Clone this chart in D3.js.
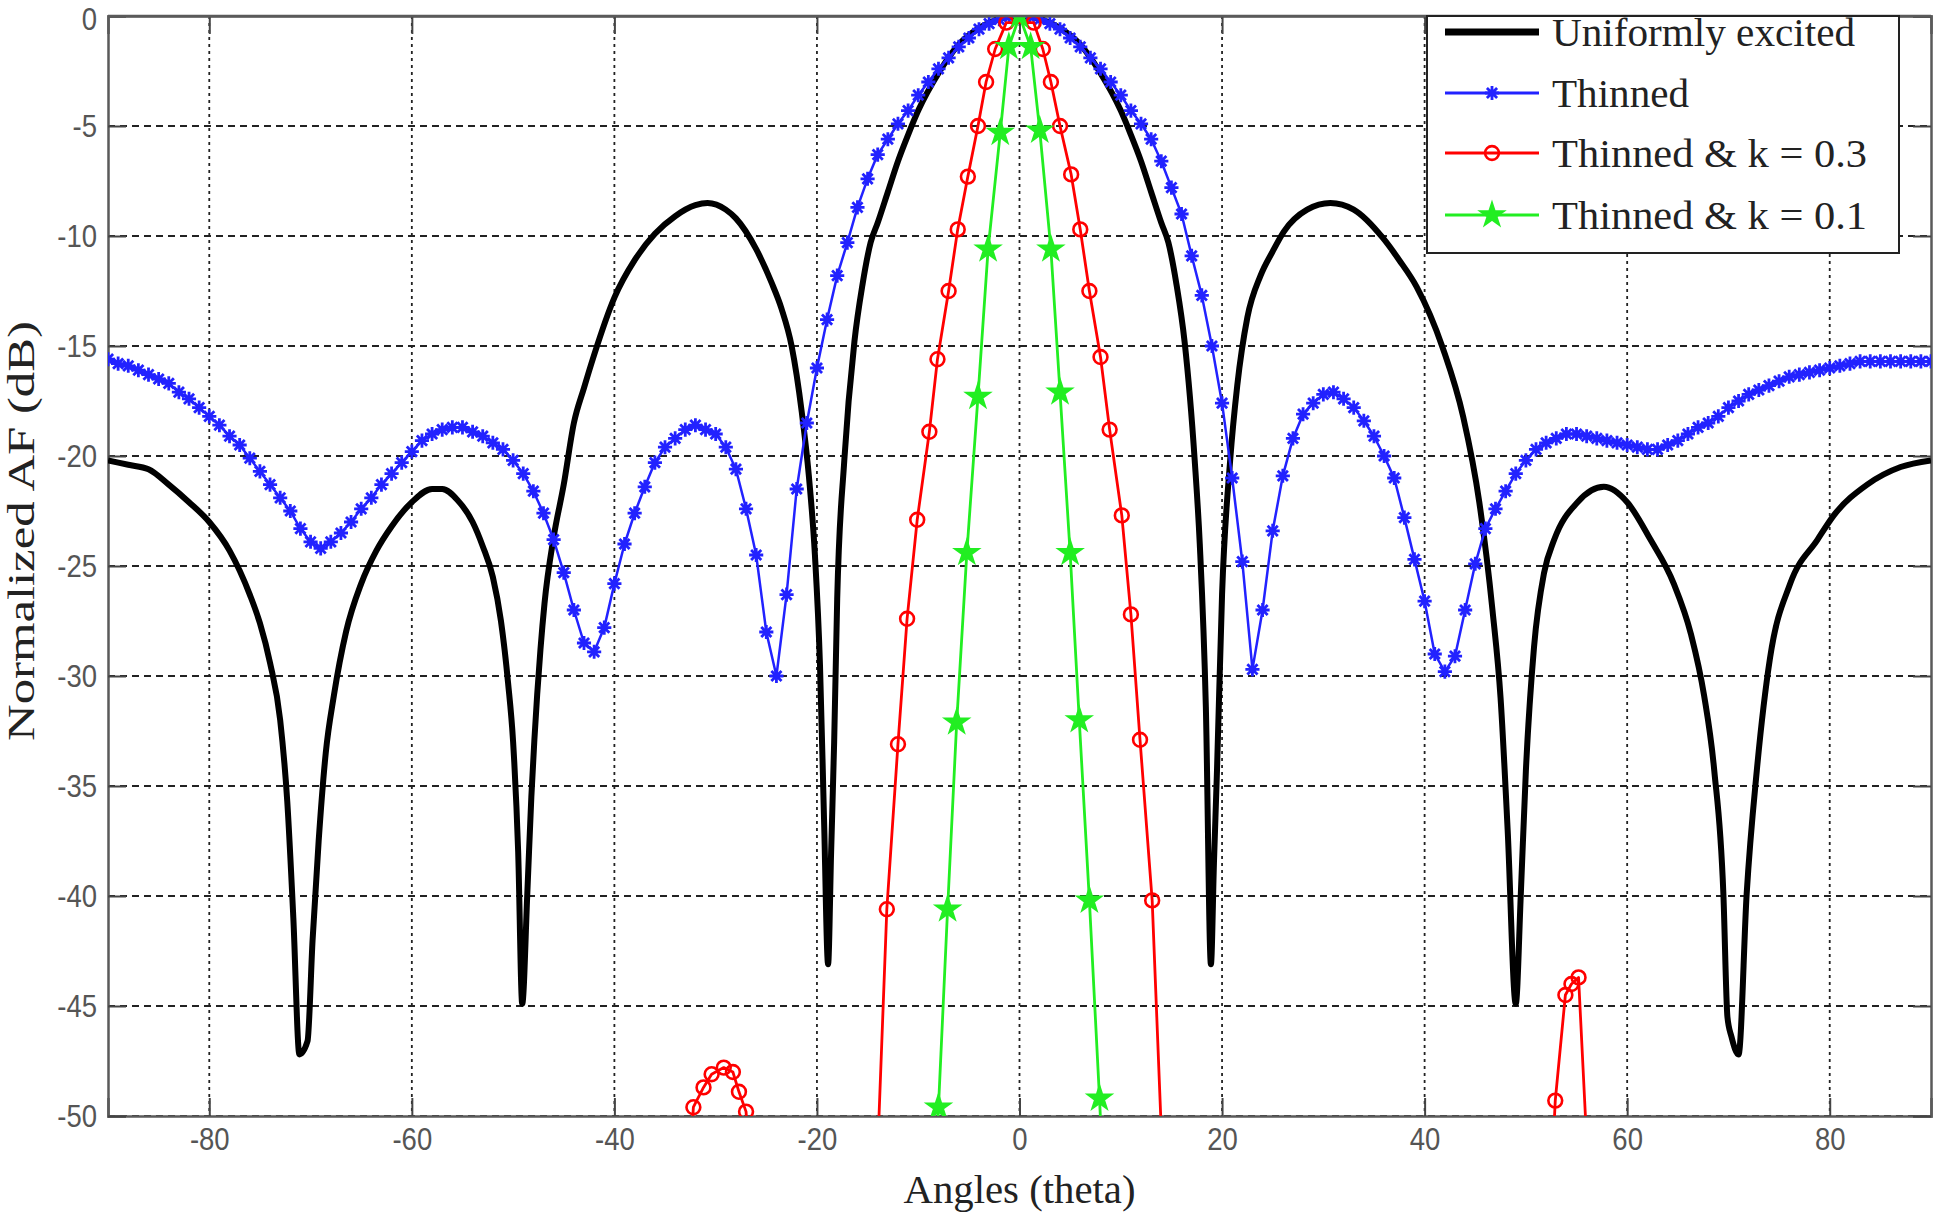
<!DOCTYPE html>
<html>
<head>
<meta charset="utf-8">
<script src="https://cdn.jsdelivr.net/npm/d3@7"></script>
<style>
  body { margin: 0; background: #fff; }
  svg { display: block; }
</style>
</head>
<body>
<div id="chart"></div>
<script>
// tick values
var xTicks = [-80, -60, -40, -20, 0, 20, 40, 60, 80];
var yTicks = [0, -5, -10, -15, -20, -25, -30, -35, -40, -45, -50];

// Uniformly excited
var uniformAngles = [-90, -88, -86, -84, -82, -80, -78, -76, -75, -74, -73, -72.3, -71.7, -71.1, -70.3, -69.8, -69.2, -68.5, -67.7, -66.5, -65, -63.5, -62, -60, -58, -57, -55.5, -54, -53, -52, -51.2, -50.5, -50, -49.5, -49.1, -48.6, -48.2, -47.9, -47.3, -46.9, -46, -45, -44, -43, -42, -40, -38, -36, -34, -32, -30.8, -29, -28, -26, -24.5, -23.5, -22.5, -21.5, -20.8, -20.2, -19.7, -19.3, -18.9, -18.6, -18.3, -18, -17.3, -16.3, -15.5, -14.7, -14, -13, -12, -11, -10, -8, -6, -4, -2, 0,
    2, 4, 6, 8, 10, 11, 12, 13, 14, 14.7, 15.5, 16.3, 17.3, 17.8, 18.4, 18.9, 19.2, 19.5, 20, 20.8, 21.5, 22.5, 23.8, 25, 26.1, 28.4, 30.7, 33, 35.9, 37.5, 39.2, 41.8, 43.8, 45.4, 46.7, 47.5, 48.2, 49, 49.5, 50, 50.8, 51.8, 52.8, 55.1, 57.7, 60, 62.3, 64.6, 66.3, 67.6, 68.6, 69.5, 69.9, 70.3, 71, 71.8, 72.8, 74.1, 76.1, 78.8, 80.4, 83.7, 87, 90];
var uniformValues = [-20.2, -20.4, -20.6, -21.3, -22.1, -23.0, -24.3, -26.3, -27.6, -29.4, -32.0, -35.7, -41.0, -47.2, -46.6, -42.0, -37.5, -33.5, -30.9, -28.0, -25.8, -24.3, -23.2, -22.1, -21.5, -21.5, -22.0, -23.0, -24.1, -25.5, -27.5, -30.3, -33.0, -38.0, -44.9, -39.9, -35.5, -32.9, -28.8, -26.7, -23.7, -21.3, -18.5, -16.9, -15.4, -12.8, -11.1, -9.9, -9.1, -8.6, -8.5, -8.8, -9.2, -10.6, -12.1, -13.3, -15.0, -18.0, -20.9, -24.5, -29.5, -36.5, -43.1, -38.0, -33.0, -26.5, -20.2, -14.8, -12.2, -10.3, -9.4, -8.0, -6.6, -5.4, -4.3, -2.6, -1.3, -0.55, -0.13, 0,
    -0.13, -0.55, -1.3, -2.6, -4.3, -5.4, -6.6, -8.0, -9.4, -10.3, -12.2, -14.8, -20.2, -24.0, -31.4, -43.1, -38.5, -34.3, -26.3, -20.2, -16.8, -13.7, -11.8, -10.7, -9.8, -8.8, -8.5, -8.8, -10.1, -11.1, -12.3, -15.1, -18.2, -22.1, -27.0, -31.0, -37.0, -44.9, -39.9, -34.3, -28.7, -25.3, -23.8, -22.1, -21.4, -22.1, -23.8, -25.8, -28.1, -30.9, -34.3, -39.9, -45.5, -46.4, -47.2, -39.9, -34.3, -29.2, -25.8, -23.8, -22.7, -21.3, -20.5, -20.2];

// Thinned, one value per degree from -90 to 90
var thinnedAngles = d3.range(-90, 91, 1);
var thinnedValues = [
    -15.6, -15.8, -15.9, -16.1, -16.3, -16.5, -16.7, -17.1, -17.4, -17.8,
    -18.2, -18.6, -19.1, -19.5, -20.1, -20.7, -21.3, -21.9, -22.5, -23.3,
    -23.9, -24.2, -23.9, -23.5, -23.0, -22.4, -21.9, -21.3, -20.8, -20.3,
    -19.8, -19.3, -19.0, -18.8, -18.7, -18.7, -18.9, -19.1, -19.4, -19.7,
    -20.2, -20.8, -21.6, -22.6, -23.8, -25.3, -27.0, -28.5, -28.9, -27.8,
    -25.8, -24.0, -22.6, -21.4, -20.3, -19.6, -19.2, -18.8, -18.6, -18.8,
    -19.0, -19.6, -20.6, -22.4, -24.5, -28.0, -30.0, -26.3, -21.5, -18.5,
    -16.0, -13.8, -11.8, -10.3, -8.7, -7.4, -6.3, -5.6, -4.9, -4.3,
    -3.6, -3.0, -2.4, -1.9, -1.4, -1.0, -0.6, -0.35, -0.15, -0.03,
    0,
    -0.03, -0.15, -0.35, -0.6, -1.0, -1.4, -1.9, -2.4, -3.0, -3.6,
    -4.3, -4.9, -5.6, -6.6, -7.8, -9.0, -10.9, -12.7, -15.0, -17.6,
    -21.0, -24.8, -29.7, -27.0, -23.4, -20.9, -19.2, -18.1, -17.6, -17.2,
    -17.1, -17.4, -17.8, -18.4, -19.1, -20.0, -21.0, -22.8, -24.7, -26.6,
    -29.0, -29.8, -29.1, -27.0, -24.9, -23.3, -22.4, -21.6, -20.8, -20.2,
    -19.7, -19.4, -19.2, -19.0, -19.0, -19.1, -19.2, -19.3, -19.4, -19.5,
    -19.6, -19.7, -19.7, -19.5, -19.3, -19.0, -18.7, -18.5, -18.2, -17.8,
    -17.5, -17.2, -17.0, -16.8, -16.6, -16.4, -16.3, -16.2, -16.1, -16.0,
    -15.9, -15.8, -15.7, -15.7, -15.7, -15.7, -15.7, -15.7, -15.7, -15.7];

// Thinned & k = 0.3 (points under -50 are cut by the axes)
var k3Angles = [-33.1, -32.2, -31.2, -30.4, -29.2, -28.3, -27.7, -27.0, -26.1,
    -14.2, -13.1, -12.0, -11.1, -10.1, -8.9, -8.1, -7.0, -6.1, -5.1, -4.1, -3.3, -2.4, -1.3,
    1.4, 2.3, 3.1, 4.0, 5.1, 6.0, 6.9, 8.0, 8.9, 10.1, 11.0, 11.9, 13.1, 14.2,
    52.1, 52.9, 53.9, 54.5, 55.2, 56.2];
var k3Values = [-56, -49.6, -48.7, -48.1, -47.8, -48.0, -48.9, -49.8, -56,
    -54, -40.6, -33.1, -27.4, -22.9, -18.9, -15.6, -12.5, -9.7, -7.3, -5.0, -3.0, -1.5, -0.3,
    -0.3, -1.5, -3.0, -5.0, -7.2, -9.7, -12.5, -15.5, -18.8, -22.7, -27.2, -32.9, -40.2, -53,
    -57, -49.3, -44.5, -44.0, -43.7, -53];

// Thinned & k = 0.1
var k1Angles = [-9.0, -8.0, -7.1, -6.2, -5.2, -4.1, -3.1, -1.9, -1.05, 0, 1.1, 2.0, 3.1, 4.0, 5.0, 5.9, 6.9, 7.9, 9.0];
var k1Values = [-60, -49.6, -40.6, -32.1, -24.4, -17.3, -10.6, -5.3, -1.4, 0, -1.4, -5.2, -10.6, -17.1, -24.4, -32.0, -40.2, -49.2, -60];

var legendNames = ["Uniformly excited", "Thinned", "Thinned & k = 0.3", "Thinned & k = 0.1"];
var legendWidths = [303, 137, 315, 315];

function zip(a, v) {
    return a.map(function(d, i) { return { x: d, y: v[i] }; });
}

// matlab style '*' marker: plus and cross on top of each other
var symbolStar8 = {
    draw: function(ctx, size) {
        var r = Math.sqrt(size) / 2, t = r * 0.72;
        ctx.moveTo(0, -r); ctx.lineTo(0, r);
        ctx.moveTo(-r, 0); ctx.lineTo(r, 0);
        ctx.moveTo(-t, -t); ctx.lineTo(t, t);
        ctx.moveTo(-t, t); ctx.lineTo(t, -t);
    }
};

var series = [
    { name: legendNames[0], data: zip(uniformAngles, uniformValues), color: "#000000", width: 6, symbol: null, curve: d3.curveMonotoneX },
    { name: legendNames[1], data: zip(thinnedAngles, thinnedValues), color: "#2222ff", width: 2.5, symbol: symbolStar8, size: 200, fill: "none", sw: 2.8, curve: d3.curveLinear },
    { name: legendNames[2], data: zip(k3Angles, k3Values), color: "#ff0000", width: 2.8, symbol: d3.symbolCircle, size: 150, fill: "none", sw: 2.6, curve: d3.curveLinear },
    { name: legendNames[3], data: zip(k1Angles, k1Values), color: "#22ee22", width: 2.8, symbol: d3.symbolStar, size: 170, fill: "#22ee22", sw: 2, curve: d3.curveLinear }
];

var W = 1946, H = 1212;
var margin = { top: 16, right: 15, bottom: 96, left: 108 },
    width = W - margin.left - margin.right,
    height = H - margin.top - margin.bottom;

var svg = d3.select("#chart")
    .append("svg")
    .attr("width", W)
    .attr("height", H);

var g = svg.append("g")
    .attr("transform", "translate(" + margin.left + "," + margin.top + ")");

var x = d3.scaleLinear().domain([-90, 90]).range([0, width]);
var y = d3.scaleLinear().domain([-50, 0]).range([height, 0]);

g.append("clipPath").attr("id", "plotclip")
    .append("rect").attr("width", width).attr("height", height);

// grid
g.append("g").selectAll("line")
    .data(xTicks).enter().append("line")
    .attr("x1", function(d) { return x(d); })
    .attr("x2", function(d) { return x(d); })
    .attr("y1", 0).attr("y2", height)
    .attr("stroke", "#222").attr("stroke-width", 1.8)
    .attr("stroke-dasharray", "3,4");

g.append("g").selectAll("line")
    .data(yTicks).enter().append("line")
    .attr("x1", 0).attr("x2", width)
    .attr("y1", function(d) { return y(d); })
    .attr("y2", function(d) { return y(d); })
    .attr("stroke", "#222").attr("stroke-width", 1.8)
    .attr("stroke-dasharray", "7,5");

// axes, ticks pointing inwards
var tickLen = 18, sx = 0.86;
g.append("g")
    .attr("transform", "translate(0," + height + ")")
    .call(d3.axisBottom(x).tickValues(xTicks).tickSize(-tickLen).tickPadding(11)
        .tickFormat(function(d) { return String(d); }));
g.append("g")
    .attr("class", "yaxis")
    .call(d3.axisLeft(y).tickValues(yTicks).tickSize(-tickLen).tickPadding(11)
        .tickFormat(function(d) { return String(d); }));
g.append("g")
    .call(d3.axisTop(x).tickValues(xTicks).tickSize(-tickLen).tickFormat(""));
g.append("g")
    .attr("transform", "translate(" + width + ",0)")
    .call(d3.axisRight(y).tickValues(yTicks).tickSize(-tickLen).tickFormat(""));

g.selectAll(".domain").attr("stroke", "#5a5a5a").attr("stroke-width", 2.5);
g.selectAll(".tick line").attr("stroke", "#444").attr("stroke-width", 2);
g.selectAll(".tick text")
    .attr("fill", "#555")
    .attr("transform", "scale(" + sx + ",1)")
    .style("font-family", "'Liberation Sans', Arial, sans-serif")
    .style("font-size", "32px");
g.selectAll(".yaxis .tick text")
    .attr("x", -11 / sx)
    .filter(function(d) { return d === 0; })
    .attr("dy", "0.42em");   // keep the top label inside the page

// curves
var plot = g.append("g").attr("clip-path", "url(#plotclip)");

series.forEach(function(s) {
    var line = d3.line()
        .curve(s.curve)
        .x(function(d) { return x(d.x); })
        .y(function(d) { return y(d.y); });
    plot.append("path")
        .datum(s.data)
        .attr("fill", "none")
        .attr("stroke", s.color)
        .attr("stroke-width", s.width)
        .attr("stroke-linejoin", "round")
        .attr("d", line);
    if (s.symbol) {
        plot.append("g").selectAll("path")
            .data(s.data).enter().append("path")
            .attr("transform", function(d) { return "translate(" + x(d.x) + "," + y(d.y) + ")"; })
            .attr("d", d3.symbol().type(s.symbol).size(s.size))
            .attr("fill", s.fill)
            .attr("stroke", s.color)
            .attr("stroke-width", s.sw);
    }
});

// top frame line drawn over the curves
g.append("line").attr("x1", 0).attr("x2", width).attr("y1", 0).attr("y2", 0)
    .attr("stroke", "#5a5a5a").attr("stroke-width", 2.5);

// legend
var legend = g.append("g").attr("transform", "translate(" + (1427 - margin.left) + ",0)");
legend.append("rect")
    .attr("width", 472).attr("height", 237)
    .attr("fill", "#fff").attr("stroke", "#222").attr("stroke-width", 2);

var rowY = [16, 77, 137, 199];
series.forEach(function(s, i) {
    var r = legend.append("g").attr("transform", "translate(0," + rowY[i] + ")");
    r.append("line")
        .attr("x1", 18).attr("x2", 112)
        .attr("stroke", s.color).attr("stroke-width", i === 0 ? 7 : 3);
    if (s.symbol) {
        r.append("path")
            .attr("transform", "translate(65,0)")
            .attr("d", d3.symbol().type(s.symbol).size(s.size))
            .attr("fill", s.fill)
            .attr("stroke", s.color)
            .attr("stroke-width", s.sw);
    }
    r.append("text")
        .attr("x", 125)
        .attr("dy", "0.35em")
        .attr("textLength", legendWidths[i])
        .attr("lengthAdjust", "spacingAndGlyphs")
        .text(s.name)
        .attr("fill", "#222")
        .style("font-family", "'Liberation Serif', 'Times New Roman', serif")
        .style("font-size", "40px");
});

// axis titles
svg.append("text")
    .attr("x", margin.left + width / 2)
    .attr("y", 1203)
    .attr("text-anchor", "middle")
    .attr("textLength", 232)
    .attr("lengthAdjust", "spacingAndGlyphs")
    .text("Angles (theta)")
    .attr("fill", "#222")
    .style("font-family", "'Liberation Serif', 'Times New Roman', serif")
    .style("font-size", "40px");

svg.append("text")
    .attr("transform", "translate(34," + (margin.top + height / 2 - 35) + ") rotate(-90)")
    .attr("text-anchor", "middle")
    .attr("textLength", 420)
    .attr("lengthAdjust", "spacingAndGlyphs")
    .text("Normalized AF (dB)")
    .attr("fill", "#222")
    .style("font-family", "'Liberation Serif', 'Times New Roman', serif")
    .style("font-size", "38px");
</script>
</body>
</html>
